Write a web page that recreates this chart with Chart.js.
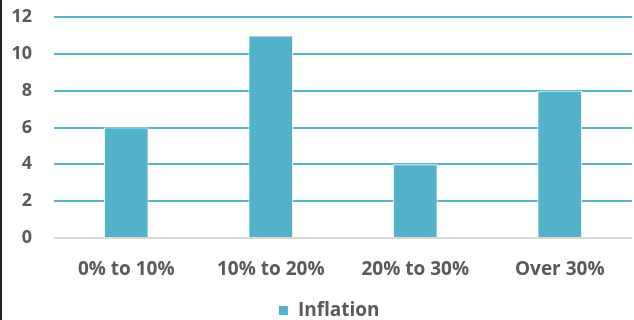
<!DOCTYPE html>
<html>
<head>
<meta charset="utf-8">
<script src="https://cdn.jsdelivr.net/npm/chart.js@4"></script>
<style>
  html, body { margin: 0; padding: 0; background: #fff; }
  #wrap { position: relative; width: 634px; height: 320px; }
  #edge { position: absolute; left: 0; top: 0; width: 2px; height: 320px; background: #222; }
</style>
</head>
<body>
<div id="wrap">
  <canvas id="chart" width="634" height="320"></canvas>
  <div id="edge"></div>
</div>
<script>
const categories = ["0% to 10%", "10% to 20%", "20% to 30%", "Over 30%"];
const inflation = [6, 11, 4, 8];
const yTicks = [0, 2, 4, 6, 8, 10, 12];

const barColor = "#53b2cb";
const gridColor = "#55b5cd";
const textColor = "#595959";

// legend sits a bit right of centre in the original
const nudgeLegend = {
  id: "nudgeLegend",
  afterLayout(chart) {
    chart.legend.left += 14;
  }
};

new Chart(document.getElementById("chart"), {
  type: "bar",
  data: {
    labels: categories,
    datasets: [{
      label: "Inflation",
      data: inflation,
      backgroundColor: barColor,
      borderColor: "#ffffff",
      borderWidth: 1,
      barPercentage: 0.62,
      categoryPercentage: 0.5
    }]
  },
  options: {
    responsive: false,
    animation: false,
    layout: { padding: { left: 12, right: 2, top: 17, bottom: -10 } },
    plugins: {
      tooltip: { enabled: false },
      legend: {
        position: "bottom",
        labels: {
          color: textColor,
          boxWidth: 10,
          boxHeight: 10,
          padding: 2,
          font: { family: "'Open Sans'", size: 19, weight: "bold" }
        }
      }
    },
    scales: {
      x: {
        grid: { display: false },
        border: { display: false },
        afterFit: axis => { axis.height = 61; },
        ticks: {
          color: textColor,
          padding: 12,
          font: { family: "'Open Sans'", size: 19, weight: "bold" }
        }
      },
      y: {
        min: yTicks[0],
        max: yTicks[yTicks.length - 1],
        border: { display: false },
        grid: {
          drawTicks: false,
          lineWidth: 2,
          color: ctx => ctx.tick && ctx.tick.value === 0 ? "#d9d9d9" : gridColor
        },
        afterBuildTicks: axis => { axis.ticks = yTicks.map(v => ({ value: v })); },
        afterFit: axis => {
          axis.width = 42;
          axis.paddingTop = 0;
          axis.paddingBottom = 0;
        },
        ticks: {
          color: textColor,
          padding: 22,
          font: { family: "'Open Sans'", size: 18, weight: "bold" }
        }
      }
    }
  },
  plugins: [nudgeLegend]
});
</script>
</body>
</html>
